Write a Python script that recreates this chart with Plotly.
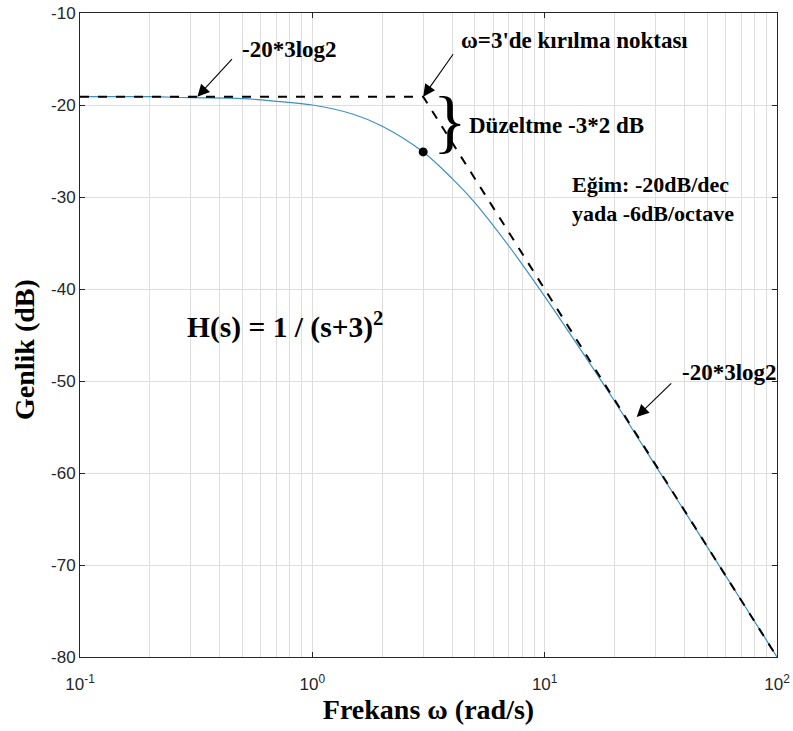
import numpy as np
import plotly.graph_objects as go

# Bode magnitude
omega = [0.1, 0.2, 0.3, 0.5, 0.7, 1, 1.5, 2, 3, 4, 5, 7, 10, 15, 20, 30, 50, 70, 100]
mag_db = [-19.1, -19.1, -19.2, -19.3, -19.6, -20.0, -21.0, -22.3, -25.1, -28.0, -30.6,
          -35.3, -40.8, -47.4, -52.2, -59.2, -68.0, -73.8, -80.0]

# Asymptote (dashed)
asym_omega = [0.1, 3, 100]
asym_db = [-19.1, -19.1, -80.0]

# Break-point marker
dot_omega = [3]
dot_db = [-25.1]

x_tickvals = [0.1, 1, 10, 100]
x_ticktext = ["10<sup>-1</sup>", "10<sup>0</sup>", "10<sup>1</sup>", "10<sup>2</sup>"]
y_tickvals = [-80, -70, -60, -50, -40, -30, -20, -10]
y_ticktext = ["-80", "-70", "-60", "-50", "-40", "-30", "-20", "-10"]

minor_vals = [m * d for d in (0.1, 1, 10) for m in range(2, 10)]

SERIF = "Liberation Serif, Times New Roman, serif"
SANS = "Liberation Sans, Arial, sans-serif"
AXC = "#262626"
GRID = "#dedede"

fig = go.Figure()
fig.add_trace(go.Scatter(x=omega, y=mag_db, mode="lines", line_shape="spline",
                         line=dict(color="#3d8fc4", width=1.2), hoverinfo="skip"))
fig.add_trace(go.Scatter(x=asym_omega, y=asym_db, mode="lines",
                         line=dict(color="black", width=2, dash="dash"), hoverinfo="skip"))
fig.add_trace(go.Scatter(x=dot_omega, y=dot_db, mode="markers",
                         marker=dict(color="black", size=9), hoverinfo="skip"))

def txt(text, px, py, size=23, xanchor="center", angle=0):
    fig.add_annotation(text=text, xref="paper", yref="paper",
                       x=(px - 80) / 697, y=(657 - py) / 644,
                       xanchor=xanchor, yanchor="middle", showarrow=False,
                       textangle=angle,
                       font=dict(family=SERIF, size=size, color="black"))

def arrow(w, db, ax, ay):
    fig.add_annotation(x=np.log10(w), y=db, xref="x", yref="y", text="",
                       showarrow=True, ax=ax, ay=ay, arrowhead=2, arrowsize=2.2,
                       arrowwidth=1.1, arrowcolor="black")

txt("<b>-20*3log2</b>", 289, 50)
arrow(0.32, -19.1, 36, -39)
txt("<b>ω=3'de kırılma noktası</b>", 574, 40)
arrow(3, -19.1, 31, -44)
txt("}", 450, 122, size=70)
txt("<b>Düzeltme -3*2 dB</b>", 467, 125, xanchor="left")
txt("<b>Eğim: -20dB/dec</b>", 570, 185, size=22, xanchor="left")
txt("<b>yada -6dB/octave</b>", 570, 213, size=22, xanchor="left")
txt("<b>H(s) = 1 / (s+3)<sup>2</sup></b>", 185, 325, size=29.5, xanchor="left")
txt("<b>-20*3log2</b>", 729, 372)
arrow(24.9, -53.9, 36, -35)
# y-axis title
txt("<b>Genlik (dB)</b>", 24, 350, size=28, angle=-90)

fig.update_xaxes(type="log", range=[-1, 2], tickvals=x_tickvals, ticktext=x_ticktext,
                 showgrid=True, gridcolor=GRID, gridwidth=1,
                 minor=dict(tickvals=minor_vals, showgrid=True, gridcolor=GRID, gridwidth=1, ticks=""),
                 showline=True, linecolor=AXC, linewidth=1, mirror="ticks",
                 ticks="inside", ticklen=5, tickcolor=AXC, zeroline=False,
                 ticklabelstandoff=12,
                 tickfont=dict(family=SANS, size=17, color=AXC),
                 title=dict(text="<b>Frekans ω (rad/s)</b>", standoff=2,
                            font=dict(family=SERIF, size=28, color="black")))
fig.update_yaxes(range=[-80, -10], tickvals=y_tickvals, ticktext=y_ticktext,
                 showgrid=True, gridcolor=GRID, gridwidth=1,
                 showline=True, linecolor=AXC, linewidth=1, mirror="ticks",
                 ticks="inside", ticklen=5, tickcolor=AXC, zeroline=False,
                 tickfont=dict(family=SANS, size=17, color=AXC))

fig.update_layout(width=793, height=731, showlegend=False,
                  paper_bgcolor="white", plot_bgcolor="white",
                  margin=dict(l=80, r=16, t=13, b=74, autoexpand=False))

fig.write_html("out.html", config={"displayModeBar": False},
               post_script="document.body.style.margin='0';")
